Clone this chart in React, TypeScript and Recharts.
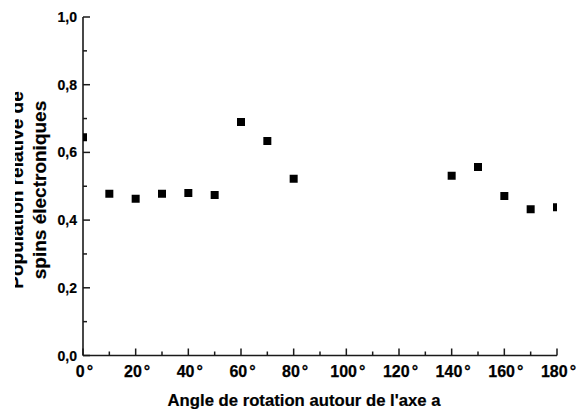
import { ScatterChart, Scatter, XAxis, YAxis, ZAxis } from "recharts";

const angles = [0, 10, 20, 30, 40, 50, 60, 70, 80, 140, 150, 160, 170, 180];
const population = [0.645, 0.478, 0.463, 0.478, 0.48, 0.474, 0.69, 0.634, 0.522, 0.531, 0.557, 0.471, 0.432, 0.438];
const xTicks = [0, 10, 20, 30, 40, 50, 60, 70, 80, 90, 100, 110, 120, 130, 140, 150, 160, 170, 180];
const yTicks = [0, 0.1, 0.2, 0.3, 0.4, 0.5, 0.6, 0.7, 0.8, 0.9, 1.0];

const data = angles.map((a, i) => ({ angle: a, pop: population[i] }));

const FONT = "'Liberation Sans', Arial, sans-serif";
const INK = "#1a1a1a";

const isMajorX = (v: number) => v % 20 === 0;
const isMajorY = (v: number) => Math.round(v * 10) % 2 === 0;

const BottomTick = (props: any) => {
  const { x, y, payload } = props;
  const v = payload.value;
  const major = isMajorX(v);
  return (
    <g>
      <line x1={x} y1={y} x2={x} y2={y - (major ? 7 : 4)} stroke={INK} strokeWidth={1.5} />
      {major && (
        <text
          x={x + 1.5}
          y={y + 21.5}
          textAnchor="middle"
          fontSize={16}
          fontWeight="bold"
          fontFamily={FONT}
          fill="#000"
          stroke="#000"
          strokeWidth={0.25}
        >
          {v}
          <tspan dx={2}>°</tspan>
        </text>
      )}
    </g>
  );
};

const TopTick = (props: any) => {
  const { x, y, payload } = props;
  const major = isMajorX(payload.value);
  return <line x1={x} y1={y} x2={x} y2={y + (major ? 7 : 4)} stroke={INK} strokeWidth={1.5} />;
};

const LeftTick = (props: any) => {
  const { x, y, payload } = props;
  const v = payload.value;
  const major = isMajorY(v);
  return (
    <g>
      <line x1={x} y1={y} x2={x + (major ? 7 : 4)} y2={y} stroke={INK} strokeWidth={1.5} />
      {major && (
        <text
          x={x - 6}
          y={y + 5}
          textAnchor="end"
          fontSize={14}
          fontWeight="bold"
          fontFamily={FONT}
          fill="#000"
          stroke="#000"
          strokeWidth={0.2}
        >
          {v.toFixed(1).replace(".", ",")}
        </text>
      )}
    </g>
  );
};

const RightTick = (props: any) => {
  const { x, y, payload } = props;
  const major = isMajorY(payload.value);
  return <line x1={x} y1={y} x2={x - (major ? 7 : 4)} y2={y} stroke={INK} strokeWidth={1.5} />;
};

const XTitle = (props: any) => {
  const vb = props.viewBox;
  return (
    <text
      x={vb.x + vb.width / 2 - 16}
      y={vb.y + 50}
      textAnchor="middle"
      fontSize={16.7}
      fontWeight="bold"
      fontFamily={FONT}
      fill="#000"
      stroke="#000"
      strokeWidth={0.2}
    >
      Angle de rotation autour de l'axe a
    </text>
  );
};

const YTitle = () => {
  const cy = 190;
  return (
    <g>
      <defs>
        <clipPath id="ytitle-clip">
          <rect x={15} y={0} width={70} height={412} />
        </clipPath>
      </defs>
      <g clipPath="url(#ytitle-clip)" fontSize={19} fontWeight="bold" fontFamily={FONT} fill="#000" stroke="#000" strokeWidth={0.2}>
        <text x={23} y={cy} transform={`rotate(-90 23 ${cy})`} textAnchor="middle">
          Population relative de
        </text>
        <text x={45.5} y={cy} transform={`rotate(-90 45.5 ${cy})`} textAnchor="middle">
          spins électroniques
        </text>
      </g>
    </g>
  );
};

export default function App() {
  return (
    <div style={{ position: "absolute", left: 0, top: 0, width: 579, height: 412, background: "#fff" }}>
      <ScatterChart width={579} height={412} margin={{ top: 17, right: 22, bottom: 16.5, left: 23 }}>
        <XAxis
          xAxisId={0}
          type="number"
          dataKey="angle"
          domain={[0, 180]}
          ticks={xTicks}
          interval={0}
          allowDataOverflow
          height={40}
          tickSize={0}
          tickMargin={0}
          tickLine={false}
          axisLine={{ stroke: INK, strokeWidth: 1.6 }}
          tick={<BottomTick />}
          label={<XTitle />}
        />
        <XAxis
          xAxisId="top"
          orientation="top"
          type="number"
          domain={[0, 180]}
          ticks={xTicks}
          interval={0}
          height={0}
          tickSize={0}
          tickMargin={0}
          tickLine={false}
          axisLine={{ stroke: INK, strokeWidth: 1.6 }}
          tick={<TopTick />}
        />
        <YAxis
          yAxisId={0}
          type="number"
          dataKey="pop"
          domain={[0, 1]}
          ticks={yTicks}
          interval={0}
          allowDataOverflow
          width={60}
          tickSize={0}
          tickMargin={0}
          tickLine={false}
          axisLine={{ stroke: INK, strokeWidth: 1.6 }}
          tick={<LeftTick />}
          label={<YTitle />}
        />
        <YAxis
          yAxisId="right"
          orientation="right"
          type="number"
          domain={[0, 1]}
          ticks={yTicks}
          interval={0}
          width={0}
          tickSize={0}
          tickMargin={0}
          tickLine={false}
          axisLine={{ stroke: INK, strokeWidth: 1.6 }}
          tick={<RightTick />}
        />
        <ZAxis range={[81, 81]} />
        <Scatter data={data} shape="square" fill="#000" isAnimationActive={false} />
      </ScatterChart>
    </div>
  );
}
